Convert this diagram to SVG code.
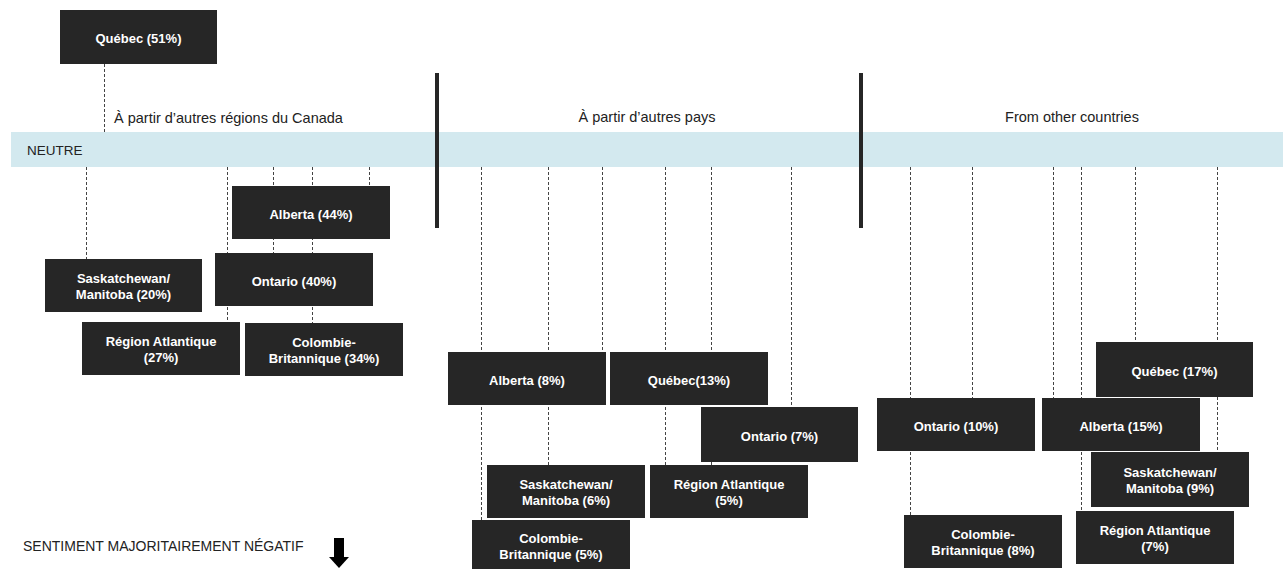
<svg xmlns="http://www.w3.org/2000/svg" width="1287" height="569" viewBox="0 0 1287 569">
<style>
.box{fill:#262626}
.lbl{font-family:"Liberation Sans",Arial,Helvetica,sans-serif;font-size:13px;font-weight:bold;fill:#ffffff;text-anchor:middle}
.title{font-family:"Liberation Sans",Arial,Helvetica,sans-serif;font-size:14.5px;fill:#222222}
.dash{stroke:#444444;stroke-width:1;stroke-dasharray:3 2;fill:none}
.bar{fill:#262626}
</style>
<rect x="0" y="0" width="1287" height="569" fill="#ffffff"/>
<rect id="band" x="11" y="132" width="1272" height="35" fill="#d3e9ef"/>
<text class="title" x="27" y="155" style="font-size:13.5px">NEUTRE</text>
<text class="title" x="114" y="123">À partir d’autres régions du Canada</text>
<text class="title" x="647" y="122" text-anchor="middle">À partir d’autres pays</text>
<text class="title" x="1072" y="122" text-anchor="middle">From other countries</text>
<rect class="bar" x="435" y="73" width="4" height="155"/>
<rect class="bar" x="859" y="73" width="4" height="155"/>
<g id="connectors">
<line class="dash" x1="104.5" y1="64" x2="104.5" y2="132"/>
<line class="dash" x1="86.5" y1="167" x2="86.5" y2="259"/>
<line class="dash" x1="227.5" y1="167" x2="227.5" y2="322"/>
<line class="dash" x1="273.5" y1="167" x2="273.5" y2="253"/>
<line class="dash" x1="312.5" y1="167" x2="312.5" y2="323"/>
<line class="dash" x1="369.5" y1="167" x2="369.5" y2="186"/>
<line class="dash" x1="481.5" y1="167" x2="481.5" y2="520"/>
<line class="dash" x1="548.5" y1="167" x2="548.5" y2="465"/>
<line class="dash" x1="602.5" y1="167" x2="602.5" y2="352"/>
<line class="dash" x1="665.5" y1="167" x2="665.5" y2="465"/>
<line class="dash" x1="711.5" y1="167" x2="711.5" y2="465"/>
<line class="dash" x1="791.5" y1="167" x2="791.5" y2="407"/>
<line class="dash" x1="910.5" y1="167" x2="910.5" y2="515"/>
<line class="dash" x1="972.5" y1="167" x2="972.5" y2="398"/>
<line class="dash" x1="1053.5" y1="167" x2="1053.5" y2="398"/>
<line class="dash" x1="1081.5" y1="167" x2="1081.5" y2="511"/>
<line class="dash" x1="1135.5" y1="167" x2="1135.5" y2="342"/>
<line class="dash" x1="1217.5" y1="167" x2="1217.5" y2="452"/>
</g>
<g id="quebec51"><rect class="box" x="60" y="10" width="157" height="54"/><text class="lbl" x="138.5" y="43">Québec (51%)</text></g>
<g id="alberta44"><rect class="box" x="232" y="186" width="158" height="53"/><text class="lbl" x="311" y="218.5">Alberta (44%)</text></g>
<g id="ontario40"><rect class="box" x="215" y="253" width="158" height="53"/><text class="lbl" x="294" y="285.5">Ontario (40%)</text></g>
<g id="sask20"><rect class="box" x="45" y="259" width="157" height="53"/><text class="lbl" x="123.5" y="282.5">Saskatchewan/</text><text class="lbl" x="123.5" y="298.5">Manitoba (20%)</text></g>
<g id="atl27"><rect class="box" x="82" y="322" width="158" height="53"/><text class="lbl" x="161" y="345.5">Région Atlantique</text><text class="lbl" x="161" y="361.5">(27%)</text></g>
<g id="cb34"><rect class="box" x="245" y="323" width="158" height="53"/><text class="lbl" x="324" y="346.5">Colombie-</text><text class="lbl" x="324" y="362.5">Britannique (34%)</text></g>
<g id="alberta8"><rect class="box" x="448" y="352" width="158" height="53"/><text class="lbl" x="527" y="384.5">Alberta (8%)</text></g>
<g id="quebec13"><rect class="box" x="610" y="352" width="158" height="53"/><text class="lbl" x="689" y="384.5">Québec(13%)</text></g>
<g id="ontario7"><rect class="box" x="701" y="407" width="157" height="55"/><text class="lbl" x="779.5" y="440.5">Ontario (7%)</text></g>
<g id="sask6"><rect class="box" x="487" y="465" width="158" height="53"/><text class="lbl" x="566" y="488.5">Saskatchewan/</text><text class="lbl" x="566" y="504.5">Manitoba (6%)</text></g>
<g id="atl5"><rect class="box" x="650" y="465" width="158" height="53"/><text class="lbl" x="729" y="488.5">Région Atlantique</text><text class="lbl" x="729" y="504.5">(5%)</text></g>
<g id="cb5"><rect class="box" x="472" y="520" width="158" height="49"/><text class="lbl" x="551" y="543">Colombie-</text><text class="lbl" x="551" y="559">Britannique (5%)</text></g>
<g id="quebec17"><rect class="box" x="1096" y="342" width="157" height="55"/><text class="lbl" x="1174.5" y="375.5">Québec (17%)</text></g>
<g id="ontario10"><rect class="box" x="877" y="398" width="158" height="53"/><text class="lbl" x="956" y="430.5">Ontario (10%)</text></g>
<g id="alberta15"><rect class="box" x="1042" y="398" width="158" height="53"/><text class="lbl" x="1121" y="430.5">Alberta (15%)</text></g>
<g id="sask9"><rect class="box" x="1091" y="452" width="158" height="55"/><text class="lbl" x="1170" y="476.5">Saskatchewan/</text><text class="lbl" x="1170" y="492.5">Manitoba (9%)</text></g>
<g id="cb8"><rect class="box" x="904" y="515" width="158" height="53"/><text class="lbl" x="983" y="538.5">Colombie-</text><text class="lbl" x="983" y="554.5">Britannique (8%)</text></g>
<g id="atl7"><rect class="box" x="1076" y="511" width="158" height="53"/><text class="lbl" x="1155" y="534.5">Région Atlantique</text><text class="lbl" x="1155" y="550.5">(7%)</text></g>
<text class="title" x="23" y="551" style="font-size:14px">SENTIMENT MAJORITAIREMENT NÉGATIF</text>
<g id="arrow"><rect x="334" y="538" width="10" height="20" fill="#000000"/><polygon points="329,557 349,557 339,568" fill="#000000"/></g>
</svg>
